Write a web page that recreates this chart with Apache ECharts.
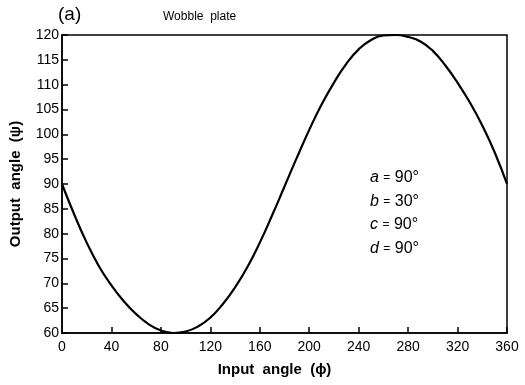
<!DOCTYPE html>
<html>
<head>
<meta charset="utf-8">
<script src="https://cdn.jsdelivr.net/npm/echarts@6/dist/echarts.min.js"></script>
<style>
  html, body { margin: 0; padding: 0; background: #fff; }
  #chart { width: 525px; height: 385px; }
</style>
</head>
<body>
<div id="chart"></div>
<script>
// input angle (phi), degrees
const inputAngle = [0, 10, 20, 30, 40, 50, 60, 70, 80, 90, 100, 110, 120, 130, 140, 150, 160, 170, 180,
  190, 200, 210, 220, 230, 240, 250, 260, 270, 280, 290, 300, 310, 320, 330, 340, 350, 360]
// output angle (psi)
const outputAngle = [90, 83.8, 78.2, 73.4, 69.6, 66.4, 63.8, 61.8, 60.5, 60, 60.3, 61.3, 63.1, 65.8, 69.2, 73.3, 78.2, 83.7, 89.5,
  95.3, 100.9, 106, 110.4, 114.2, 117.1, 119, 119.9, 120, 119.6, 118.7, 116.8, 113.9, 110.4, 106.4, 101.8, 96.4, 90]
const xTicks = [0, 40, 80, 120, 160, 200, 240, 280, 320, 360]
const yTicks = [60, 65, 70, 75, 80, 85, 90, 95, 100, 105, 110, 115, 120]
const params = [['a', '90°'], ['b', '30°'], ['c', '90°'], ['d', '90°']]

const chart = echarts.init(document.getElementById('chart'))
const font = 'Liberation Sans, Arial, sans-serif'

const points = inputAngle.map((x, i) => [x, outputAngle[i]])

// parameter labels (a, b, c, d)
const paramTexts = params.map((p, i) => ({
  type: 'text',
  left: 370,
  top: 170 + i * 23.5,
  style: {
    text: '{v|' + p[0] + '} {e|=} ' + p[1],
    rich: {
      v: { fontStyle: 'italic', fontSize: 16, fontFamily: font, fill: '#000' },
      e: { fontSize: 12, fontFamily: font, fill: '#000' }
    },
    fontSize: 16,
    fontFamily: font,
    fill: '#000'
  }
}))

chart.setOption({
  animation: false,
  backgroundColor: '#fff',
  grid: {
    left: 62, right: 18, top: 35, bottom: 52,
    show: true, borderColor: '#000', borderWidth: 1.5
  },
  xAxis: {
    type: 'value',
    min: xTicks[0],
    max: xTicks[xTicks.length - 1],
    interval: 40,
    name: 'Input  angle  (ϕ)',
    nameLocation: 'middle',
    nameGap: 29,
    nameTextStyle: { fontSize: 15, fontWeight: 'bold', fontFamily: font, color: '#000', padding: [0, 20, 0, 0] },
    axisLine: { show: true, lineStyle: { color: '#000', width: 1.5 } },
    axisTick: { show: true, inside: true, length: 6, lineStyle: { color: '#000', width: 1.5 } },
    axisLabel: { fontSize: 14, fontFamily: font, color: '#000', margin: 7 },
    splitLine: { show: false }
  },
  yAxis: {
    type: 'value',
    min: yTicks[0],
    max: yTicks[yTicks.length - 1],
    interval: 5,
    name: 'Output  angle  (ψ)',
    nameLocation: 'middle',
    nameGap: 39,
    nameTextStyle: { fontSize: 15, fontWeight: 'bold', fontFamily: font, color: '#000' },
    axisLine: { show: true, lineStyle: { color: '#000', width: 1.5 } },
    axisTick: { show: true, inside: true, length: 6, lineStyle: { color: '#000', width: 1.5 } },
    axisLabel: { fontSize: 14, fontFamily: font, color: '#000', margin: 3 },
    splitLine: { show: false }
  },
  graphic: [
    { type: 'text', left: 58, top: 5, style: { text: '(a)', fontSize: 19, fontFamily: font, fill: '#000' } },
    { type: 'text', left: 163, top: 11, style: { text: 'Wobble  plate', fontSize: 12, fontFamily: font, fill: '#000' } }
  ].concat(paramTexts),
  series: [{
    type: 'line',
    data: points,
    smooth: true,
    symbol: 'none',
    lineStyle: { color: '#000', width: 2.2 }
  }]
})
</script>
</body>
</html>
